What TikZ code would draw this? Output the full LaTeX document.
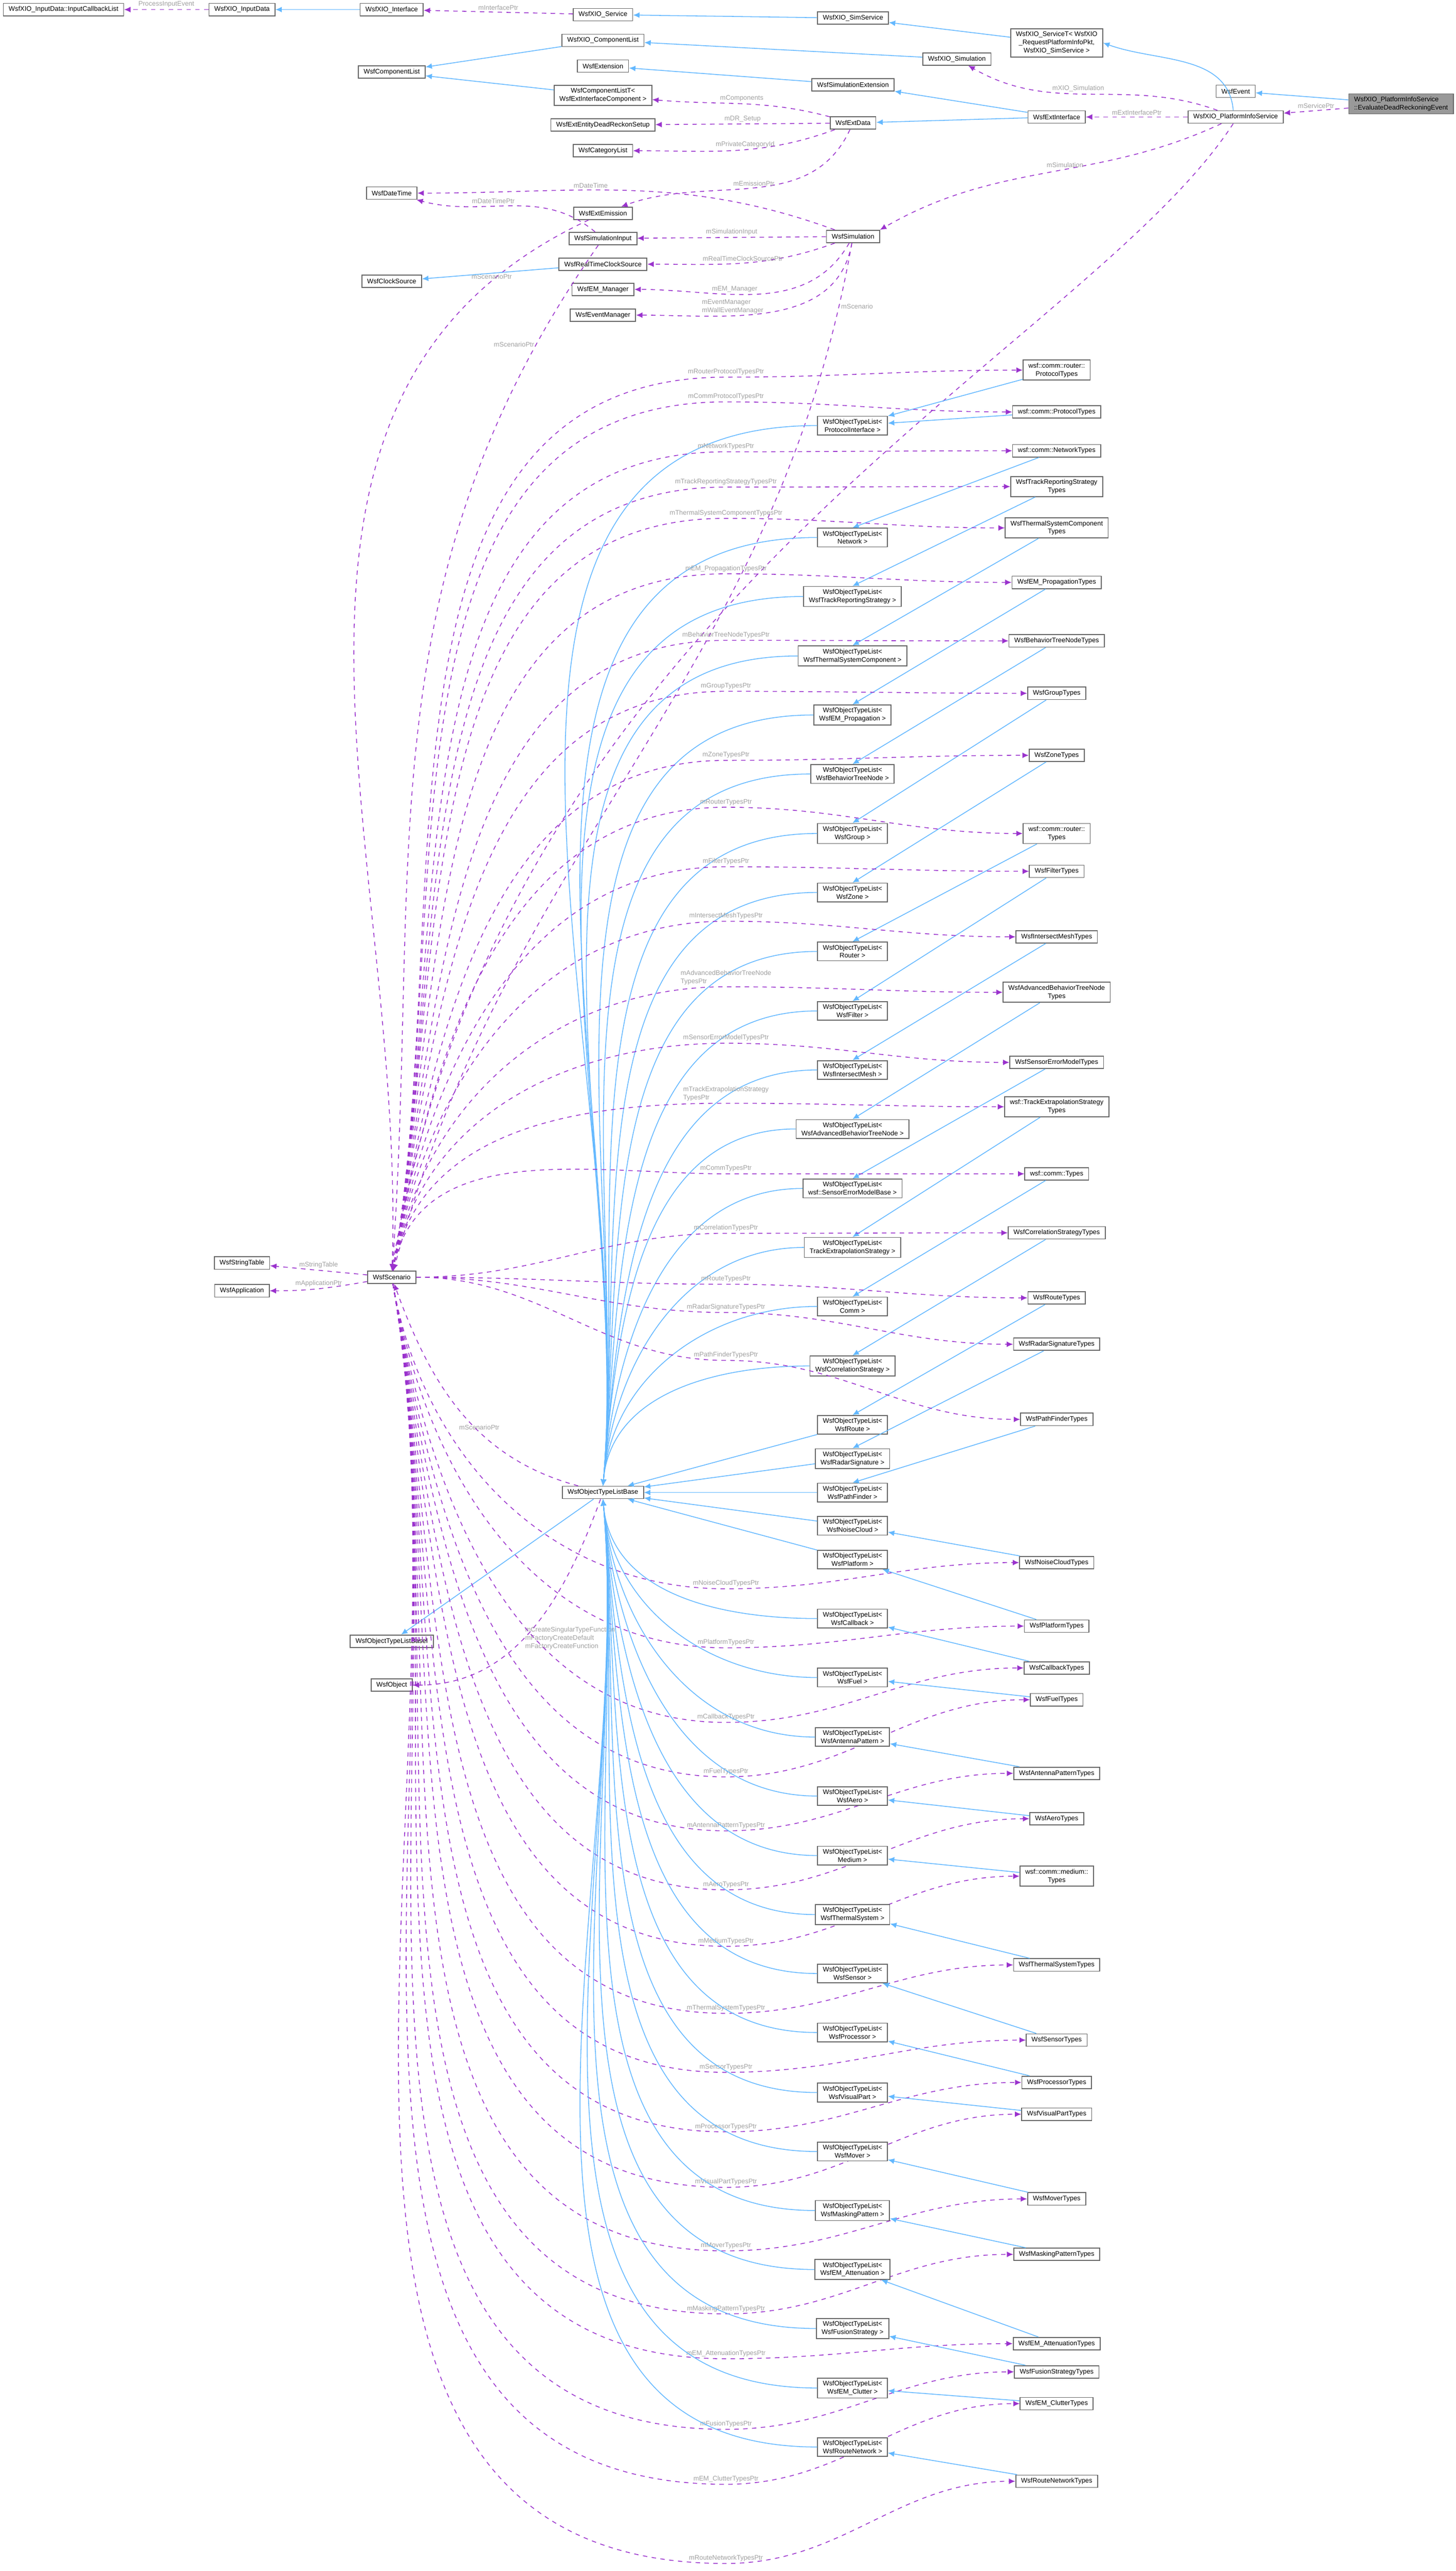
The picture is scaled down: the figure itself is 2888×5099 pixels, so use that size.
\documentclass[tikz,border=0pt]{standalone}
\usepackage{fontspec}
\setmainfont{Liberation Sans}
\usetikzlibrary{arrows.meta}
\definecolor{inhblue}{HTML}{63B8FF}
\definecolor{usepurple}{HTML}{9A32CD}
\definecolor{lblgray}{HTML}{A0A0A0}
\newcommand\fsz{\fontsize{3.75}{4.6}\selectfont}
\begin{document}
\begin{tikzpicture}[x=0.1mm,y=0.1mm,
    box/.style={draw=black!60,fill=white,line width=0.5pt,font=\fsz,inner xsep=3pt,inner ysep=1.6pt,align=center,minimum height=7pt},
    inh/.style={-{Latex[length=3.6pt,width=3.2pt]},draw=inhblue,line width=0.45pt},
    use/.style={inh,draw=usepurple,dash pattern=on 2.5pt off 2.5pt},
    lbl/.style={font=\fsz,text=lblgray,inner sep=1pt}]
    \fill[white] (0,0) rectangle (2888,-5099);
    \useasboundingbox (0,0) rectangle (2888,-5099);

    \node[box] (cbl) at (126,-19) {WsfXIO\_InputData::InputCallbackList};
    \node[box] (ind) at (480,-19) {WsfXIO\_InputData};
    \node[box] (xif) at (777,-19) {WsfXIO\_Interface};
    \node[box] (xsv) at (1196,-29) {WsfXIO\_Service};
    \node[box] (xss) at (1692,-36) {WsfXIO\_SimService};
    \node[box] (xst) at (2096,-85) {WsfXIO\_ServiceT< WsfXIO\\\_RequestPlatformInfoPkt,\\ WsfXIO\_SimService >};
    \node[box] (xcl) at (1196,-80) {WsfXIO\_ComponentList};
    \node[box] (cl) at (777,-143) {WsfComponentList};
    \node[box] (xsim) at (1898,-117) {WsfXIO\_Simulation};
    \node[box] (ext) at (1196,-131) {WsfExtension};
    \node[box] (sext) at (1692,-168) {WsfSimulationExtension};
    \node[box] (clt) at (1196,-189) {WsfComponentListT<\\ WsfExtInterfaceComponent >};
    \node[box] (exd) at (1692,-244) {WsfExtData};
    \node[box] (edr) at (1196,-248) {WsfExtEntityDeadReckonSetup};
    \node[box] (cat) at (1196,-299) {WsfCategoryList};
    \node[box] (evt) at (2451,-181) {WsfEvent};
    \node[box,fill=black!40,align=left] (gray) at (2779,-206) {WsfXIO\_PlatformInfoService\\::EvaluateDeadReckoningEvent};
    \node[box] (pis) at (2451,-232) {WsfXIO\_PlatformInfoService};
    \node[box] (exi) at (2096,-232) {WsfExtInterface};
    \node[box] (dt) at (777,-383) {WsfDateTime};
    \node[box] (eem) at (1196,-423) {WsfExtEmission};
    \node[box] (sin) at (1196,-473) {WsfSimulationInput};
    \node[box] (sim) at (1692,-469) {WsfSimulation};
    \node[box] (rtc) at (1196,-524) {WsfRealTimeClockSource};
    \node[box] (cs) at (777,-558) {WsfClockSource};
    \node[box] (emm) at (1196,-574) {WsfEM\_Manager};
    \node[box] (evm) at (1196,-625) {WsfEventManager};
    \node[box] (sc) at (777,-2533) {WsfScenario};
    \node[box] (st) at (480,-2505) {WsfStringTable};
    \node[box] (app) at (480,-2560) {WsfApplication};
    \node[box] (otb) at (1196,-2960) {WsfObjectTypeListBase};
    \node[box] (otbi) at (777,-3255) {WsfObjectTypeListBaseI};
    \node[box] (obj) at (777,-3342) {WsfObject};
    \node[box] (lpi) at (1691,-844) {WsfObjectTypeList<\\ProtocolInterface >};
    \node[box] (trp) at (2096,-734) {wsf::comm::router::\\ProtocolTypes};
    \node[box] (tcp) at (2096,-817) {wsf::comm::ProtocolTypes};

    \draw[inh] (xif) -- (ind);
    \draw[use] (ind) -- node[lbl,above]{ProcessInputEvent} (cbl);
    \draw[use] (xsv) -- node[lbl,above]{mInterfacePtr} (xif);
    \draw[inh] (xss) -- (xsv);
    \draw[inh] (xst) -- (xss);
    \draw[inh] (pis.110) to[out=95,in=-20] (xst.east);
    \draw[inh] (xcl) -- (cl);
    \draw[inh] (clt) -- (cl);
    \draw[inh] (xsim) -- (xcl);
    \draw[inh] (sext) -- (ext);
    \draw[inh] (exi) -- (sext);
    \draw[inh] (exi) -- (exd);
    \draw[inh] (gray) -- (evt);
    \draw[use] (gray) -- node[lbl,above]{mServicePtr} (pis);
    \draw[use] (pis) -- node[lbl,above]{mExtInterfacePtr} (exi);
    \draw[use] (pis) to[out=160,in=-30] node[lbl,above,pos=.55]{mXIO\_Simulation} (xsim);
    \draw[use] (pis) to[out=-155,in=30] node[lbl,above,pos=.45]{mSimulation} (sim.north east);
    \draw[use] (pis.-110) .. controls (2150,-700) and (1000,-1200) .. (sc.north);
    \draw[use] (exd) to[out=165,in=-5] node[lbl,above]{mComponents} (clt);
    \draw[use] (exd) -- node[lbl,above]{mDR\_Setup} (edr);
    \draw[use] (exd) to[out=-160,in=0] node[lbl,above,pos=.45]{mPrivateCategoryId} (cat);
    \draw[use] (exd) to[out=-115,in=20] node[lbl,above,pos=.5]{mEmissionPtr} (eem);
    \draw[use] (sim) to[out=160,in=0] node[lbl,above,pos=.6]{mDateTime} (dt);
    \draw[use] (sin) to[out=140,in=-15] node[lbl,above,pos=.6]{mDateTimePtr} (dt);
    \draw[use] (eem) to[out=-155,in=88] node[lbl,above,pos=.1]{mScenarioPtr} (sc);
    \draw[use] (sin) to[out=-125,in=86] node[lbl,left,pos=.1]{mScenarioPtr} (sc);
    \draw[use] (sim) -- node[lbl,above]{mSimulationInput} (sin);
    \draw[use] (sim) to[out=-160,in=0] node[lbl,above]{mRealTimeClockSourcePtr} (rtc);
    \draw[use] (sim) to[out=-120,in=0] node[lbl,above,pos=.6]{mEM\_Manager} (emm);
    \draw[use] (sim) to[out=-100,in=0] node[lbl,above,align=left,pos=.65]{mEventManager\\mWallEventManager} (evm);
    \draw[use] (sim) to[out=-100,in=75] node[lbl,right,pos=.05]{mScenario} (sc);
    \draw[inh] (rtc) -- (cs);
    \draw[use] (sc) -- node[lbl,above]{mStringTable} (st);
    \draw[use] (sc) to[out=-170,in=0] node[lbl,above]{mApplicationPtr} (app);
    \draw[use] (otb) to[out=165,in=-70] node[lbl,above,pos=.4]{mScenarioPtr} (sc);
    \draw[inh] (otb) -- (otbi);
    \draw[use] (otb) to[out=-110,in=0] node[lbl,right,align=left,pos=.55]{mCreateSingularTypeFunction\\mFactoryCreateDefault\\mFactoryCreateFunction} (obj);
    \draw[inh] (lpi.west) to[out=180,in=85] (otb.north);
    \draw[inh] (trp) -- (lpi);
    \draw[inh] (tcp) -- (lpi);
    \draw[use] (sc) to[out=80,in=180] (1440,-748) node[lbl,above]{mRouterProtocolTypesPtr} to[out=0,in=180] (trp.west);
    \draw[use] (sc) to[out=80,in=180] (1440,-797) node[lbl,above]{mCommProtocolTypesPtr} to[out=0,in=180] (tcp.west);

    \foreach \nm/\ya/\ta/\yb/\tb/\lb/\yc in {
      a/1066/{Network >}/894/{wsf::comm::NetworkTypes}/{mNetworkTypesPtr}/880,
      b/1183/{WsfTrackReportingStrategy >}/965/{WsfTrackReportingStrategy\\Types}/{mTrackReportingStrategyTypesPtr}/950,
      c/1301/{WsfThermalSystemComponent >}/1047/{WsfThermalSystemComponent\\Types}/{mThermalSystemComponentTypesPtr}/1012,
      d/1418/{WsfEM\_Propagation >}/1155/{WsfEM\_PropagationTypes}/{mEM\_PropagationTypesPtr}/1122,
      e/1535/{WsfBehaviorTreeNode >}/1271/{WsfBehaviorTreeNodeTypes}/{mBehaviorTreeNodeTypesPtr}/1254,
      f/1653/{WsfGroup >}/1375/{WsfGroupTypes}/{mGroupTypesPtr}/1355,
      g/1770/{WsfZone >}/1498/{WsfZoneTypes}/{mZoneTypesPtr}/1492,
      h/1887/{Router >}/1653/{wsf::comm::router::\\Types}/{mRouterTypesPtr}/1585,
      i/2005/{WsfFilter >}/1728/{WsfFilterTypes}/{mFilterTypesPtr}/1703,
      j/2122/{WsfIntersectMesh >}/1858/{WsfIntersectMeshTypes}/{mIntersectMeshTypesPtr}/1811,
      k/2239/{WsfAdvancedBehaviorTreeNode >}/1968/{WsfAdvancedBehaviorTreeNode\\Types}/{mAdvancedBehaviorTreeNode\\TypesPtr}/1941,
      l/2357/{wsf::SensorErrorModelBase >}/2107/{WsfSensorErrorModelTypes}/{mSensorErrorModelTypesPtr}/2053,
      m/2474/{TrackExtrapolationStrategy >}/2195/{wsf::TrackExtrapolationStrategy\\Types}/{mTrackExtrapolationStrategy\\TypesPtr}/2172,
      n/2591/{Comm >}/2328/{wsf::comm::Types}/{mCommTypesPtr}/2312,
      o/2709/{WsfCorrelationStrategy >}/2445/{WsfCorrelationStrategyTypes}/{mCorrelationTypesPtr}/2430,
      p/2826/{WsfRoute >}/2574/{WsfRouteTypes}/{mRouteTypesPtr}/2531,
      q/2893/{WsfRadarSignature >}/2666/{WsfRadarSignatureTypes}/{mRadarSignatureTypesPtr}/2587,
      r/2960/{WsfPathFinder >}/2815/{WsfPathFinderTypes}/{mPathFinderTypesPtr}/2682,
      s/3026/{WsfNoiseCloud >}/3099/{WsfNoiseCloudTypes}/{mNoiseCloudTypesPtr}/3135,
      t/3093/{WsfPlatform >}/3225/{WsfPlatformTypes}/{mPlatformTypesPtr}/3252,
      u/3210/{WsfCallback >}/3308/{WsfCallbackTypes}/{mCallbackTypesPtr}/3400,
      v/3327/{WsfFuel >}/3371/{WsfFuelTypes}/{mFuelTypesPtr}/3508,
      w/3445/{WsfAntennaPattern >}/3517/{WsfAntennaPatternTypes}/{mAntennaPatternTypesPtr}/3615,
      x/3562/{WsfAero >}/3607/{WsfAeroTypes}/{mAeroTypesPtr}/3732,
      y/3680/{Medium >}/3721/{wsf::comm::medium::\\Types}/{mMediumTypesPtr}/3844,
      z/3797/{WsfThermalSystem >}/3897/{WsfThermalSystemTypes}/{mThermalSystemTypesPtr}/3977,
      A/3914/{WsfSensor >}/4046/{WsfSensorTypes}/{mSensorTypesPtr}/4094,
      B/4031/{WsfProcessor >}/4130/{WsfProcessorTypes}/{mProcessorTypesPtr}/4212,
      C/4150/{WsfVisualPart >}/4193/{WsfVisualPartTypes}/{mVisualPartTypesPtr}/4322,
      D/4267/{WsfMover >}/4361/{WsfMoverTypes}/{mMoverTypesPtr}/4448,
      E/4384/{WsfMaskingPattern >}/4471/{WsfMaskingPatternTypes}/{mMaskingPatternTypesPtr}/4573,
      F/4501/{WsfEM\_Attenuation >}/4648/{WsfEM\_AttenuationTypes}/{mEM\_AttenuationTypesPtr}/4662,
      G/4618/{WsfFusionStrategy >}/4704/{WsfFusionStrategyTypes}/{mFusionTypesPtr}/4802,
      H/4736/{WsfEM\_Clutter >}/4767/{WsfEM\_ClutterTypes}/{mEM\_ClutterTypesPtr}/4911,
      I/4853/{WsfRouteNetwork >}/4921/{WsfRouteNetworkTypes}/{mRouteNetworkTypesPtr}/5068}
    {
      \node[box] (l\nm) at (1691,-\ya) {WsfObjectTypeList<\\\ta};
      \node[box] (t\nm) at (2096,-\yb) {\tb};
      \ifnum\ya<2780
        \draw[inh] (l\nm.west) to[out=180,in=85] (otb.north);
      \else\ifnum\ya>3150
        \draw[inh] (l\nm.west) to[out=180,in=-85] (otb.south);
      \else
        \draw[inh] (l\nm) -- (otb);
      \fi\fi
      \ifnum\yb<\numexpr\ya-100\relax
        \draw[inh] (t\nm) -- (l\nm.north);
      \else
        \draw[inh] (t\nm) -- (l\nm);
      \fi
      \ifnum\yc<2350
        \draw[use] (sc) to[out=80,in=180] (1440,-\yc-16) node[lbl,above,align=left]{\lb} to[out=0,in=180] (t\nm.west);
      \else\ifnum\yc>2750
        \draw[use] (sc) to[out=-80,in=180] (1440,-\yc-16) node[lbl,above]{\lb} to[out=0,in=180] (t\nm.west);
      \else
        \draw[use] (sc) to[out=0,in=180] (1440,-\yc-16) node[lbl,above]{\lb} to[out=0,in=180] (t\nm.west);
      \fi\fi
    }
\end{tikzpicture}
\end{document}
